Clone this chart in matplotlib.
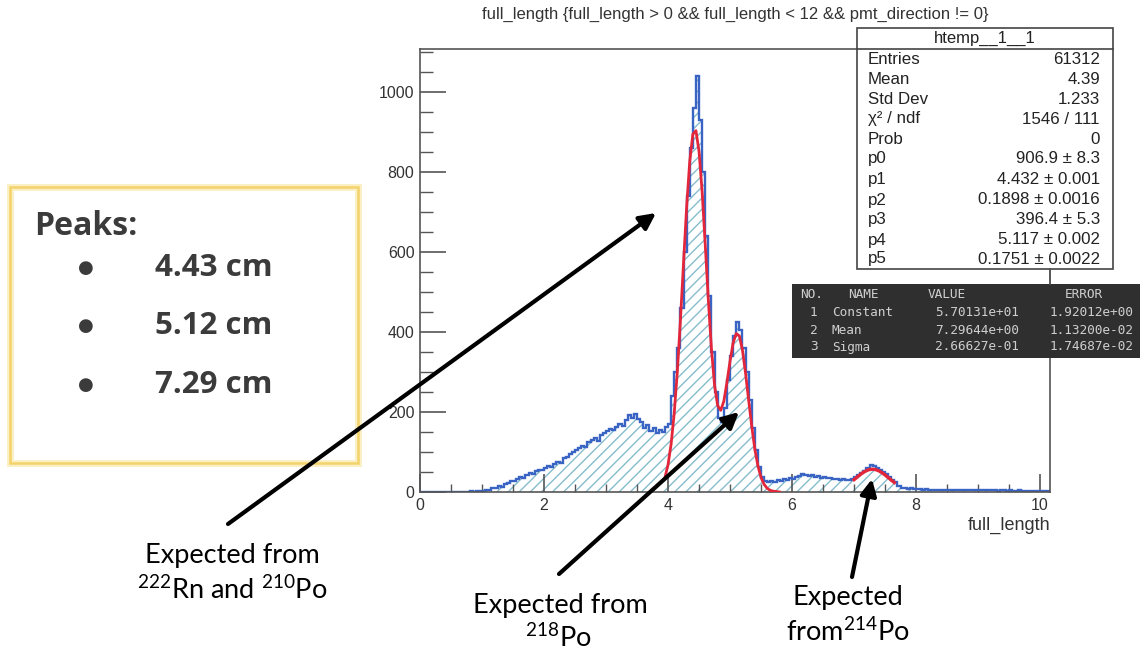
import numpy as np
import matplotlib
matplotlib.use("Agg")
import matplotlib.pyplot as plt
from matplotlib.patches import Rectangle, FancyArrowPatch
from matplotlib.ticker import MultipleLocator

# ---------------- data ----------------
bin_width = 0.05
counts = [
    0, 0, 0, 0, 0, 0, 0, 0, 0, 0, 0, 0, 1, 0, 1, 1, 2, 1, 2, 3,
    3, 5, 6, 9, 10, 14, 13, 19, 22, 28, 27, 33, 38, 36, 42, 47, 45, 52, 56, 54,
    60, 64, 62, 70, 76, 73, 84, 88, 95, 100, 104, 110, 115, 112, 125, 130, 134, 128, 142, 148,
    152, 158, 155, 163, 170, 166, 180, 192, 185, 196, 182, 175, 160, 168, 152, 160, 148, 155, 150, 162,
    170, 240, 300, 360, 460, 600, 740, 860, 960, 1040, 930, 800, 640, 490, 350, 250, 185, 175, 210, 280,
    340, 390, 425, 405, 360, 300, 230, 160, 105, 62, 38, 28, 26, 28, 25, 30, 28, 32, 30, 35,
    33, 38, 40, 44, 42, 40, 43, 38, 40, 36, 37, 34, 36, 32, 33, 30, 32, 29, 31, 33,
    38, 42, 48, 52, 60, 68, 66, 60, 55, 50, 44, 38, 30, 24, 16, 11, 9, 8, 9, 7,
    8, 7, 6, 7, 6, 6, 5, 6, 5, 6, 5, 5, 6, 5, 4, 5, 5, 4, 5, 4,
    5, 4, 4, 5, 4, 4, 3, 4, 4, 3, 4, 3, 3, 4, 3, 3, 3, 3, 2, 3,
    2, 3, 2,
]

# double-gaussian fit curve (red), sampled every 0.05 from 3.95 to 5.80
fit1_start, fit1_end = 3.95, 5.80
fit1_y = [36, 68, 120, 197, 301, 430, 573, 712, 826, 894,
          903, 851, 750, 618, 480, 358, 267, 216, 204, 227,
          274, 327, 373, 396, 390, 355, 297, 230, 164, 107,
          65, 36, 19, 9, 4, 2, 1, 0]
# single gaussian fit (red), sampled every 0.05 from 7.00 to 7.65
fit2_start, fit2_end = 7.00, 7.65
fit2_y = [30.8, 37.2, 43.5, 49.1, 53.4, 56.2, 57.0, 55.9, 52.8, 48.2, 42.5, 36.2, 29.8, 23.6]

title = "full_length {full_length > 0 && full_length < 12 && pmt_direction != 0}"
xlabel = "full_length"

stats_title = "htemp__1__1"
stats_names = ["Entries", "Mean", "Std Dev", "χ² / ndf", "Prob",
               "p0", "p1", "p2", "p3", "p4", "p5"]
stats_values = ["61312", "4.39", "1.233", "1546 / 111", "0",
                "906.9 ± 8.3", "4.432 ± 0.001", "0.1898 ± 0.0016",
                "396.4 ± 5.3", "5.117 ± 0.002", "0.1751 ± 0.0022"]

table_header = ["NO.", "NAME", "VALUE", "ERROR"]
table_no = ["1", "2", "3"]
table_name = ["Constant", "Mean", "Sigma"]
table_value = ["5.70131e+01", "7.29644e+00", "2.66627e-01"]
table_error = ["1.92012e+00", "1.13200e-02", "1.74687e-02"]

peaks_title = "Peaks:"
peaks = ["4.43 cm", "5.12 cm", "7.29 cm"]

# ---------------- figure ----------------
W, H = 1140, 654
fig = plt.figure(figsize=(W / 100, H / 100), dpi=100)
plt.rcParams['mathtext.fontset'] = 'custom'
plt.rcParams['mathtext.rm'] = 'Lato'
plt.rcParams['hatch.linewidth'] = 1.0


def fx(px):
    return px / W


def fy(py):
    return 1 - py / H


ROOT_FONT = "Liberation Sans"

ax = fig.add_axes([fx(420), fy(492), fx(1050) - fx(420), fy(49) - fy(492)])
ax.set_xlim(0, 10.16)
ax.set_ylim(0, 1107)

edges = np.arange(len(counts) + 1) * bin_width
hatch_col = "#86bccd"
blue = "#3a64c4"
red = "#e3263a"
ax.stairs(counts, edges, fill=True, hatch="///", facecolor="none",
          edgecolor=hatch_col, linewidth=0, zorder=1)
ax.stairs(counts, edges, color=blue, linewidth=1.7, zorder=2)

fx1 = np.linspace(fit1_start, fit1_end, len(fit1_y))
fx2 = np.linspace(fit2_start, fit2_end, len(fit2_y))
ax.plot(fx1, fit1_y, color=red, lw=2.0, zorder=3)
ax.plot(fx2, fit2_y, color=red, lw=2.4, zorder=3)

for s in ax.spines.values():
    s.set_color("#555555")
    s.set_linewidth(1.2)

ax.xaxis.set_major_locator(MultipleLocator(2))
ax.xaxis.set_minor_locator(MultipleLocator(0.5))
ax.yaxis.set_major_locator(MultipleLocator(200))
ax.yaxis.set_minor_locator(MultipleLocator(50))
ax.tick_params(axis='x', which='major', direction='in', length=13, width=1.2,
               color="#555555", labelsize=11.5, pad=4)
ax.tick_params(axis='x', which='minor', direction='in', length=6, width=1.0, color="#555555")
ax.tick_params(axis='y', which='major', direction='in', length=19, width=1.2,
               color="#555555", labelsize=11.5, pad=4)
ax.tick_params(axis='y', which='minor', direction='in', length=9, width=1.0, color="#555555")
for lab in ax.get_xticklabels() + ax.get_yticklabels():
    lab.set_fontfamily(ROOT_FONT)
    lab.set_color("#333333")
ax.set_xlabel(xlabel, fontsize=13, family=ROOT_FONT, color="#333333")
ax.xaxis.set_label_coords(1.0, -0.055)
ax.xaxis.label.set_horizontalalignment("right")

fig.text(fx(735), fy(14), title, ha="center", va="center", fontsize=12,
         family=ROOT_FONT, color="#333333")

# ---------------- stats box ----------------
fig.add_artist(Rectangle((fx(857), fy(269)), fx(1113) - fx(857), fy(28) - fy(269),
                         transform=fig.transFigure, facecolor="white",
                         edgecolor="#444444", lw=1.2, zorder=5))
fig.add_artist(plt.Line2D([fx(857), fx(1113)], [fy(49), fy(49)],
                          transform=fig.transFigure, color="#444444", lw=1.2, zorder=6))
fig.add_artist(plt.Line2D([fx(1050), fx(1050)], [fy(269), fy(284)],
                          transform=fig.transFigure, color="#555555", lw=1.2, zorder=6))
fig.text(fx(985), fy(38), stats_title, ha="center", va="center", fontsize=12,
         family=ROOT_FONT, color="#222222", zorder=7)
row_y = [59.5, 80, 99.5, 119, 139, 158.5, 179.5, 200, 219.5, 240, 259]
for name, val, yy in zip(stats_names, stats_values, row_y):
    fig.text(fx(868), fy(yy), name, ha="left", va="center", fontsize=12.2,
             family=ROOT_FONT, color="#222222", zorder=7)
    fig.text(fx(1100), fy(yy), val, ha="right", va="center", fontsize=12.2,
             family=ROOT_FONT, color="#222222", zorder=7)

# ---------------- dark fit table ----------------
fig.add_artist(Rectangle((fx(792), fy(358)), fx(1145) - fx(792), fy(284) - fy(358),
                         transform=fig.transFigure, facecolor="#2f2f2f",
                         edgecolor="#2f2f2f", lw=0, zorder=5))
MONO = "DejaVu Sans Mono"
tcol = "#cfcfcf"
fig.text(fx(800), fy(295), table_header[0], fontsize=9.2, family=MONO, color=tcol, va="center", zorder=7)
fig.text(fx(848), fy(295), table_header[1], fontsize=9.2, family=MONO, color=tcol, va="center", zorder=7)
fig.text(fx(928), fy(295), table_header[2], fontsize=9.2, family=MONO, color=tcol, va="center", zorder=7)
fig.text(fx(1065), fy(295), table_header[3], fontsize=9.2, family=MONO, color=tcol, va="center", zorder=7)
for i, yy in enumerate([313, 330, 347]):
    fig.text(fx(810), fy(yy), table_no[i], fontsize=9.2, family=MONO, color=tcol, va="center", zorder=7)
    fig.text(fx(832), fy(yy), table_name[i], fontsize=9.2, family=MONO, color=tcol, va="center", zorder=7)
    fig.text(fx(935), fy(yy), table_value[i], fontsize=9.2, family=MONO, color=tcol, va="center", zorder=7)
    fig.text(fx(1050), fy(yy), table_error[i], fontsize=9.2, family=MONO, color=tcol, va="center", zorder=7)

# ---------------- Peaks box ----------------
fig.add_artist(Rectangle((fx(10), fy(463)), fx(358) - fx(10), fy(187) - fy(463),
                         transform=fig.transFigure, facecolor="white",
                         edgecolor="#fbefc4", lw=5, zorder=4))
fig.add_artist(Rectangle((fx(10), fy(463)), fx(358) - fx(10), fy(187) - fy(463),
                         transform=fig.transFigure, facecolor="none",
                         edgecolor="#f4d36a", lw=1.8, zorder=4))
dark = "#3b3b3b"
fig.text(fx(34), fy(227), peaks_title, ha="left", va="center", fontsize=23,
         family="Open Sans", weight="bold", color=dark, zorder=6)
for lab, yy in zip(peaks, [268, 326, 385]):
    fig.text(fx(86), fy(yy), "●", ha="center", va="center", fontsize=13,
             family="DejaVu Sans", color=dark, zorder=6)
    fig.text(fx(155), fy(yy), lab, ha="left", va="center", fontsize=22.5,
             family="Open Sans", weight="bold", color=dark, zorder=6)

# ---------------- arrows ----------------
arrows = [((228, 524), (656, 213)), ((559, 574), (739, 412)), ((852, 577), (872, 479))]
for (x0, y0), (x1, y1) in arrows:
    fig.add_artist(FancyArrowPatch((fx(x0), fy(y0)), (fx(x1), fy(y1)),
                                   transform=fig.transFigure, arrowstyle="-|>",
                                   mutation_scale=24, lw=3, color="black",
                                   shrinkA=0, shrinkB=0, zorder=8))

# ---------------- annotations ----------------
ANN = "Lato"
annot = [
    (232, 556, "Expected from"),
    (232, 590, r"$^{222}$Rn and $^{210}$Po"),
    (560, 605, "Expected from"),
    (558, 638, r"$^{218}$Po"),
    (848, 598, "Expected"),
    (848, 632, r"from$^{214}$Po"),
]
for x, y, t in annot:
    fig.text(fx(x), fy(y), t, ha="center", va="center", fontsize=19.5,
             family=ANN, color="black", zorder=8)

fig.savefig("out.png", dpi=100)
